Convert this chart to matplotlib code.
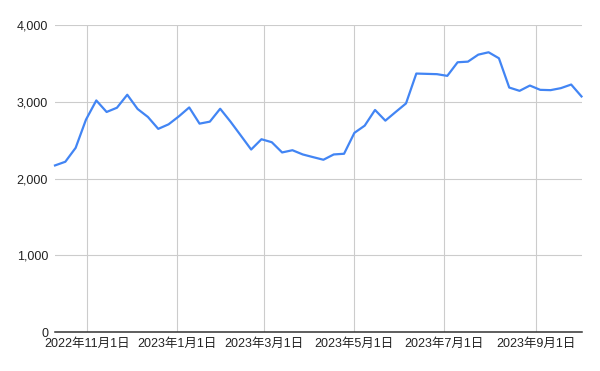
import matplotlib
matplotlib.use("Agg")
import matplotlib.pyplot as plt
import matplotlib.dates as mdates
import matplotlib.ticker as mticker
import pandas as pd

# Weekly dates (Mondays)
start_date = "2022-10-10"
n_weeks = 52
values = [
    2172, 2220, 2401, 2768, 3018, 2868, 2923, 3092, 2907, 2803,
    2648, 2707, 2811, 2927, 2716, 2742, 2910, 2742, 2561, 2379,
    2513, 2474, 2341, 2370, 2315, 2280, 2246, 2315, 2324, 2596,
    2690, 2894, 2755, 2868, 2979, 3368, 3364, 3360, 3338, 3515,
    3523, 3614, 3645, 3567, 3186, 3143, 3212, 3156, 3152, 3178,
    3225, 3070,
]
tick_dates = ["2022-11-01", "2023-01-01", "2023-03-01", "2023-05-01", "2023-07-01", "2023-09-01"]
tick_labels = ["2022年11月1日", "2023年1月1日", "2023年3月1日", "2023年5月1日", "2023年7月1日", "2023年9月1日"]
y_ticks = [0, 1000, 2000, 3000, 4000]

dates = pd.date_range(start_date, periods=n_weeks, freq="7D")

plt.rcParams['font.family'] = ['Liberation Sans', 'Noto Sans CJK JP', 'DejaVu Sans']

fig = plt.figure(figsize=(6.0, 3.71), dpi=100)
ax = fig.add_axes([55/600, 1 - 332.3/371, (581.5 - 55)/600, (332.3 - 25)/371])

ax.plot(dates, values, color="#4285F4", linewidth=1.6, solid_joinstyle="round", zorder=3, clip_on=False)

ax.set_xlim(dates[0], dates[-1])
ax.set_ylim(0, 4000)

tick_x = pd.to_datetime(tick_dates)
ax.set_xticks(tick_x)
ax.set_xticklabels(tick_labels)
ax.set_yticks(y_ticks)
ax.yaxis.set_major_formatter(mticker.FuncFormatter(lambda v, p: f"{int(v):,}"))

for t in tick_x:
    ax.axvline(t, color="#cccccc", linewidth=0.8, zorder=1)
for y in y_ticks[1:]:
    ax.axhline(y, color="#cccccc", linewidth=0.8, zorder=1)
ax.axhline(0, color="#333333", linewidth=1.1, zorder=2, clip_on=False)

for s in ax.spines.values():
    s.set_visible(False)

ax.tick_params(axis="both", length=0, labelsize=9, colors="#222222")
ax.tick_params(axis="x", pad=4)
ax.tick_params(axis="y", pad=5)

fig.savefig("out.png", dpi=100)
